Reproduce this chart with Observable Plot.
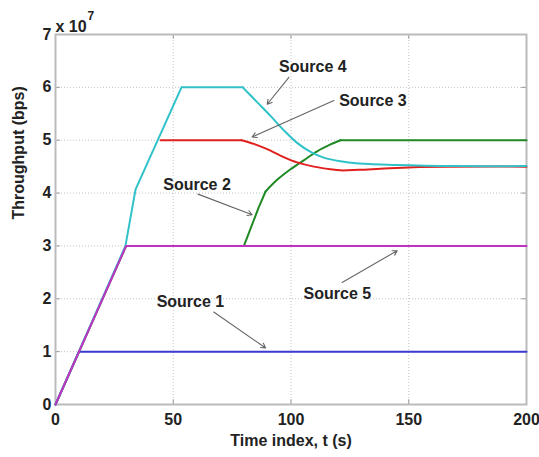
<!DOCTYPE html>
<html>
<head>
<meta charset="utf-8">
<script src="https://cdn.jsdelivr.net/npm/d3@7"></script>
<script src="https://cdn.jsdelivr.net/npm/@observablehq/plot@0.6"></script>
<style>
  html, body { margin: 0; padding: 0; background: #fff; }
  #chart svg { display: block; }
</style>
</head>
<body>
<div id="chart"></div>
<script>
// Throughput values in units of 1e7 bps
const source1T = [0, 10, 200];
const source1V = [0, 1.0, 1.0];

const source5T = [0, 30, 200];
const source5V = [0, 3.0, 3.0];

const source2T = [0, 30, 80, 86.3, 89.2, 94.1, 99.8, 105.4, 111.1, 116.8, 121, 200];
const source2V = [0, 3.0, 3.0, 3.73, 4.03, 4.25, 4.45, 4.62, 4.79, 4.92, 5.0, 5.0];

const source4T = [0, 29.7, 34, 53.5, 79.5, 85.6, 91.3, 96.9, 102.6, 108.3, 113.9, 121, 128.8, 145, 170, 200];
const source4V = [0, 3.0, 4.07, 6.0, 6.0, 5.72, 5.46, 5.19, 4.95, 4.78, 4.67, 4.60, 4.56, 4.53, 4.51, 4.51];

const source3T = [44.6, 79, 84.2, 89.9, 96.9, 102.6, 109.7, 116.8, 121, 128.8, 138, 152, 200];
const source3V = [5.0, 5.0, 4.93, 4.83, 4.68, 4.58, 4.50, 4.45, 4.43, 4.44, 4.46, 4.49, 4.5];

const xTicks = [0, 50, 100, 150, 200];
const yTicks = [0, 1, 2, 3, 4, 5, 6, 7];

const labelNames = ["Source 4", "Source 3", "Source 2", "Source 1", "Source 5"];
const labelX = [109.3, 134.8, 60.1, 57.3, 119.7];
const labelY = [6.39, 5.75, 4.16, 1.95, 2.10];
const arrowX1 = [99.1, 118.2, 60.5, 67.2, 121.7];
const arrowY1 = [6.19, 5.75, 3.98, 1.75, 2.31];
const arrowX2 = [89.9, 83.5, 83.5, 89.2, 145.1];
const arrowY2 = [5.68, 5.06, 3.59, 1.07, 2.91];

const colors = {s1: "#3a3ad2", s2: "#1f8a24", s3: "#e0201e", s4: "#30c2c8", s5: "#c032c0"};

const toPts = (T, V) => T.map((t, i) => ({t, v: V[i]}));
// pieces of a series between two times (inclusive)
const piece = (T, V, a, b) => toPts(T, V).filter(d => d.t >= a && d.t <= b);

const labels = labelNames.map((name, i) => ({name, x: labelX[i], y: labelY[i]}));
const arrows = labelNames.map((name, i) => ({x1: arrowX1[i], y1: arrowY1[i], x2: arrowX2[i], y2: arrowY2[i]}));

const font = "'Liberation Sans', Arial, Helvetica, sans-serif";
const lw = 2;
const smooth = "catmull-rom";

const chart = Plot.plot({
  width: 539,
  height: 457,
  marginLeft: 55,
  marginRight: 13,
  marginTop: 34,
  marginBottom: 53,
  style: {fontFamily: font, fontSize: "16px", fontWeight: "bold", color: "#222", background: "#fff"},
  x: {domain: [0, 200], axis: null},
  y: {domain: [0, 7], axis: null},
  marks: [
    Plot.gridX(xTicks, {stroke: "#888", strokeOpacity: 0.5, strokeDasharray: "1,2"}),
    Plot.gridY(yTicks, {stroke: "#888", strokeOpacity: 0.5, strokeDasharray: "1,2"}),
    Plot.ruleX(xTicks, {y1: 0, y2: 0.09, stroke: "#999"}),
    Plot.ruleX(xTicks, {y1: 7, y2: 6.91, stroke: "#999"}),
    Plot.ruleY(yTicks, {x1: 0, x2: 2, stroke: "#999"}),
    Plot.ruleY(yTicks, {x1: 200, x2: 198, stroke: "#999"}),
    Plot.frame({stroke: "#bbb", strokeWidth: 2}),
    Plot.axisX(xTicks, {tickSize: 0, tickPadding: 9, fontSize: 16, fontWeight: "bold", tickFormat: d => String(d)}),
    Plot.axisY(yTicks, {tickSize: 0, tickPadding: 4, fontSize: 16, fontWeight: "bold", tickFormat: d => String(d), label: null}),
    Plot.line(toPts(source1T, source1V), {x: "t", y: "v", stroke: colors.s1, strokeWidth: lw}),
    Plot.line(piece(source2T, source2V, 0, 89.2), {x: "t", y: "v", stroke: colors.s2, strokeWidth: lw}),
    Plot.line(piece(source2T, source2V, 89.2, 121), {x: "t", y: "v", stroke: colors.s2, strokeWidth: lw, curve: smooth}),
    Plot.line(piece(source2T, source2V, 121, 200), {x: "t", y: "v", stroke: colors.s2, strokeWidth: lw}),
    Plot.line(piece(source3T, source3V, 0, 79), {x: "t", y: "v", stroke: colors.s3, strokeWidth: lw}),
    Plot.line(piece(source3T, source3V, 79, 200), {x: "t", y: "v", stroke: colors.s3, strokeWidth: lw, curve: smooth}),
    Plot.line(piece(source4T, source4V, 0, 79.5), {x: "t", y: "v", stroke: colors.s4, strokeWidth: lw}),
    Plot.line(piece(source4T, source4V, 79.5, 200), {x: "t", y: "v", stroke: colors.s4, strokeWidth: lw, curve: smooth}),
    Plot.line(toPts(source5T, source5V), {x: "t", y: "v", stroke: colors.s5, strokeWidth: lw}),
    Plot.arrow(arrows, {x1: "x1", y1: "y1", x2: "x2", y2: "y2", stroke: "#666", strokeWidth: 1.1, headLength: 7, bend: false}),
    Plot.text(labels, {x: "x", y: "y", text: "name", fontSize: 16, fontWeight: "bold", fill: "#222"}),
    Plot.text(["Time index, t (s)"], {frameAnchor: "bottom", dy: 41, fontSize: 16, fontWeight: "bold", fill: "#222"}),
    Plot.text(["Throughput (bps)"], {frameAnchor: "left", dx: -37, rotate: -90, fontSize: 16, fontWeight: "bold", fill: "#222"}),
    Plot.text(["x 10"], {frameAnchor: "top-left", dx: 0, dy: -14, textAnchor: "start", fontSize: 16, fontWeight: "bold", fill: "#222"}),
    Plot.text(["7"], {frameAnchor: "top-left", dx: 32, dy: -23, textAnchor: "start", fontSize: 12, fontWeight: "bold", fill: "#222"})
  ]
});
document.getElementById("chart").appendChild(chart);
</script>
</body>
</html>
